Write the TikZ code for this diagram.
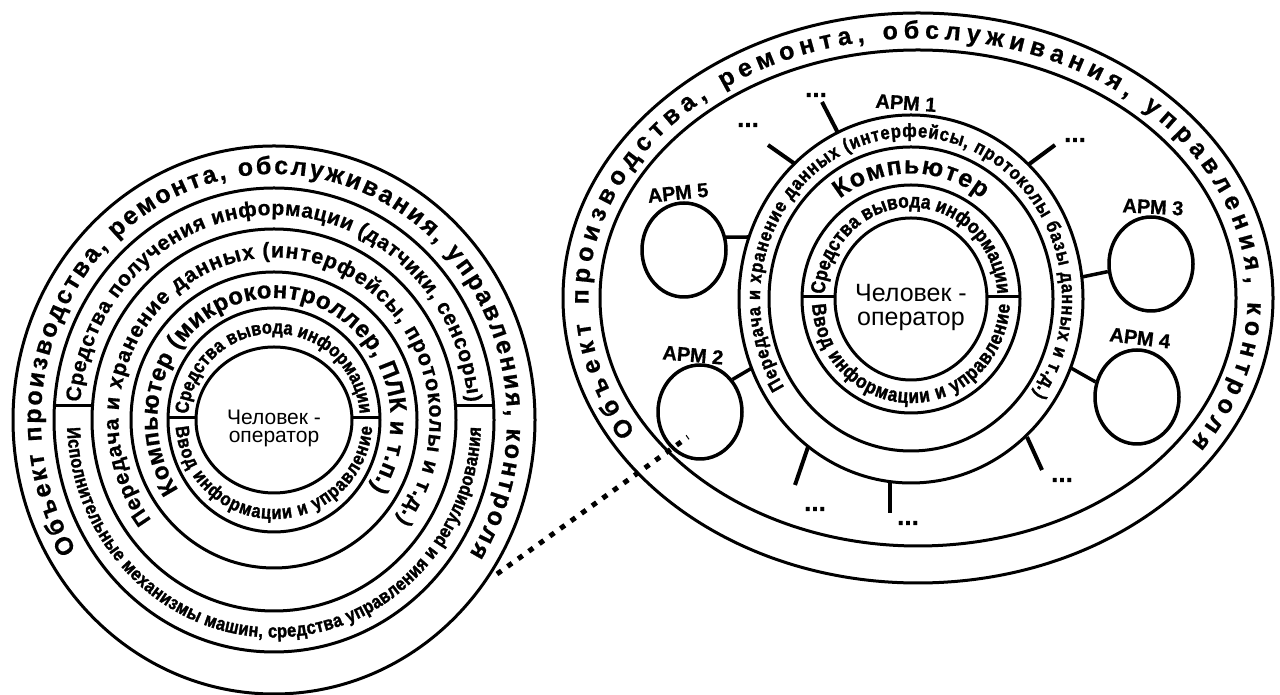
\documentclass[tikz,border=0pt]{standalone}
\usepackage{fontspec}
\setmainfont{Liberation Sans}
\newfontfamily\hv{Liberation Sans Bold}[FakeBold=0.7]
\newfontfamily\hvc{Liberation Sans Bold}[FakeStretch=0.86,FakeBold=1.6]
\usetikzlibrary{decorations.text,shapes.geometric}
% #1 format, #2 text, #3 centre, #4 x radius, #5 y radius, #6 start angle, #7 end angle
\newcommand\ringtxt[7]{\path[decorate,decoration={text along path,text align=fit to path,text={|#1|#2}}] (#3) ++(#6:#4 and #5) arc[start angle=#6,end angle=#7,x radius=#4,y radius=#5];}
\begin{document}
\begin{tikzpicture}[x=1pt,y=1pt,
  ring/.style={line width=3pt},
  arm/.style={draw,ellipse,line width=3.5pt,minimum width=84pt,minimum height=94pt,inner sep=0pt},
  lbl/.style={font=\hv\fontsize{20}{20}\selectfont,inner sep=0pt},
  dots/.style={font=\hv\fontsize{26}{26}\selectfont,inner sep=0pt},
  stub/.style={line width=4pt},
  link/.style={line width=3.5pt},
  humanL/.style={font=\fontsize{21}{21}\selectfont,anchor=base,inner sep=0pt},
  humanR/.style={font=\fontsize{25}{25}\selectfont,anchor=base,inner sep=0pt},
  dotline/.style={line width=5pt,dash pattern=on 5.5pt off 7.5pt}]
\useasboundingbox (0,0) rectangle (1280,695);
\fill[white] (0,0) rectangle (1280,695);

% ================= LEFT DIAGRAM =================
\coordinate (L) at (274,275);
\draw[ring] (L) ellipse [x radius=261, y radius=274];
\draw[ring] (L) ellipse [x radius=220, y radius=232];
\draw[ring] (L) ellipse [x radius=182, y radius=191];
\draw[ring] (L) ellipse [x radius=143, y radius=148];
\draw[ring] (L) ellipse [x radius=106, y radius=112];
\draw[ring] (L) ellipse [x radius=78, y radius=73];
% dividers
\draw[ring] (54,289) -- (92,289);
\draw[ring] (456,289) -- (494,289);
\draw[ring] (168,277) -- (196,277);
\draw[ring] (352,277) -- (380,277);

\ringtxt{\hv\fontsize{25}{25}\selectfont}{Объект производства, ремонта, обслуживания, управления, контроля}{L}{233}{246}{212}{-33}
\ringtxt{\hv\fontsize{21}{21}\selectfont}{Средства получения информации (датчики, сенсоры)}{L}{194.5}{205}{175}{5}
\ringtxt{\hvc\fontsize{19}{19}\selectfont}{Исполнительные механизмы машин, средства управления и регулирования}{L}{207}{217.5}{182}{358}
\ringtxt{\hv\fontsize{21.5}{21.5}\selectfont}{Передача и хранение данных (интерфейсы, протоколы и т.д.)}{L}{155.5}{162.5}{218}{-38}
\ringtxt{\hv\fontsize{24}{24}\selectfont}{Компьютер (микроконтроллер, ПЛК и т.п.)}{L}{116.5}{122}{215}{-34}
\ringtxt{\hvc\fontsize{19}{19}\selectfont}{Средства вывода информации}{L}{86}{86.5}{176}{4}
\ringtxt{\hvc\fontsize{19}{19}\selectfont}{Ввод информации и управление}{L}{98.5}{99}{184}{356}

\node[humanL] (hl1) at (274,270) {Человек -};
\node[humanL] (hl2) at (274,252.5) {оператор};

% ================= RIGHT DIAGRAM =================
\coordinate (R0) at (918,397);
\coordinate (R) at (911,396);
\draw[ring] (R0) ellipse [x radius=355, y radius=285];
\draw[ring] (R0) ellipse [x radius=318, y radius=248];
\draw[ring] (R) ellipse [x radius=172, y radius=184];
\draw[ring] (R) ellipse [x radius=142, y radius=152];
\draw[ring] (R) ellipse [x radius=109, y radius=114];
\draw[ring] (R) ellipse [x radius=76, y radius=81];
\draw[ring] (802,398) -- (835,398);
\draw[ring] (987,398) -- (1020,398);

\ringtxt{\hv\fontsize{25}{25}\selectfont}{Объект производства, ремонта, обслуживания, управления, контроля}{R0}{329.5}{259.5}{211}{-34}
\ringtxt{\hvc\fontsize{19}{19}\selectfont}{Передача и хранение данных (интерфейсы, протоколы базы данных и т.д.)}{R}{151}{162}{213}{-36}
\ringtxt{\hv\fontsize{25}{25}\selectfont}{Компьютер}{R}{118}{125.5}{127}{53}
\ringtxt{\hvc\fontsize{20}{20}\selectfont}{Средства вывода информации}{R}{86.5}{91.5}{177}{3}
\ringtxt{\hvc\fontsize{20}{20}\selectfont}{Ввод информации и управление}{R}{99}{104}{183}{357}

\node[humanR] (hr1) at (911,393) {Человек -};
\node[humanR] (hr2) at (911,369) {оператор};

% workstations
\node[arm] (a5) at (684,445) {};
\node[arm] (a3) at (1151,431) {};
\node[arm] (a4) at (1137,298) {};
\node[arm] (a2) at (700,283) {};
\node[lbl,rotate=6] (l5) at (678,502) {АРМ 5};
\node[lbl,rotate=-3] (l3) at (1153,488) {АРМ 3};
\node[lbl,rotate=-7] (l4) at (1140,357) {АРМ 4};
\node[lbl,rotate=-5] (l2) at (693,340) {АРМ 2};
\node[lbl,rotate=-4] (l1) at (906,592) {АРМ 1};

\coordinate (c5) at (749,458);
\coordinate (c3) at (1082,418);
\coordinate (c4) at (1071,327);
\coordinate (c2) at (752,327);
\draw[link] (a5.17) -- (c5);
\draw[link] (a3.190) -- (c3);
\draw[link] (a4.160) -- (c4);
\draw[link] (a2.45) -- (c2);

% stubs to further workstations
\coordinate (s1i) at (838,562); \coordinate (s1o) at (822,593);
\coordinate (s2i) at (795,531); \coordinate (s2o) at (768,550);
\coordinate (s3i) at (1028,530); \coordinate (s3o) at (1055,550);
\coordinate (s4i) at (808,248); \coordinate (s4o) at (795,210);
\coordinate (s5i) at (890,212); \coordinate (s5o) at (890,182);
\coordinate (s6i) at (1027,258); \coordinate (s6o) at (1042,225);
\draw[stub] (s1i) -- (s1o);
\draw[stub] (s2i) -- (s2o);
\draw[stub] (s3i) -- (s3o);
\draw[stub] (s4i) -- (s4o);
\draw[stub] (s5i) -- (s5o);
\draw[stub] (s6i) -- (s6o);
\node[dots] (d1) at (816,600) {...};
\node[dots] (d2) at (748,570) {...};
\node[dots] (d3) at (1075,555) {...};
\node[dots] (d4) at (815,186) {...};
\node[dots] (d5) at (908,172) {...};
\node[dots] (d6) at (1062,215) {...};

% dotted link between the two views
\coordinate (dl1) at (497,121);
\coordinate (dl2) at (688,258);
\draw[dotline] (dl1) -- (dl2);
\end{tikzpicture}
\end{document}
